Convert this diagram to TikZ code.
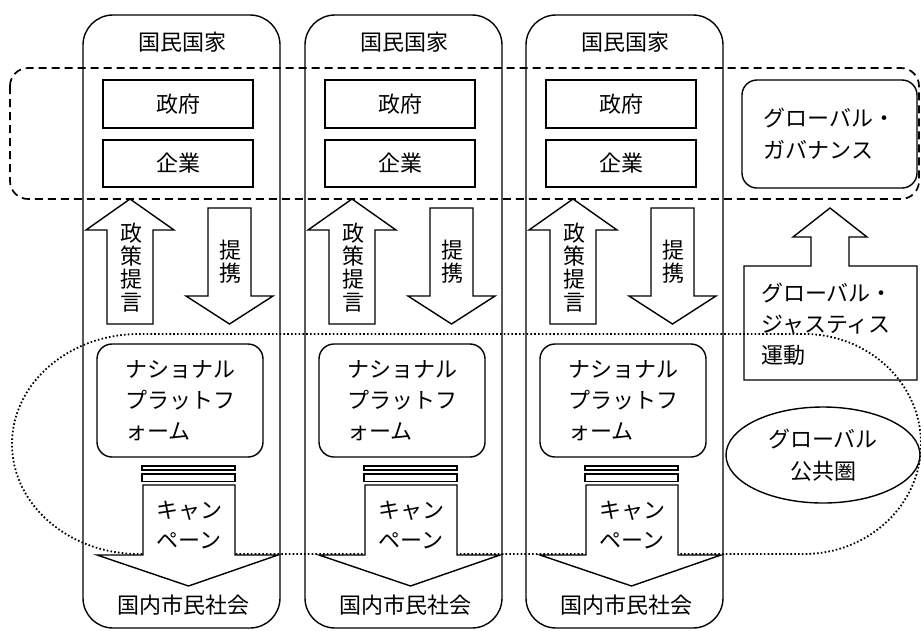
\documentclass[tikz,border=0pt]{standalone}
\usepackage{fontspec}
\setmainfont{Noto Sans CJK JP}
\usetikzlibrary{shapes.geometric}
\begin{document}
\begin{tikzpicture}[x=1pt,y=-1pt,
  line width=1.4pt,
  jp/.style={font=\fontsize{22}{31}\selectfont},
  jpv/.style={font=\fontsize{22}{23}\selectfont, align=center},
  sqbox/.style={draw, fill=white, minimum width=150pt, inner sep=0pt, jp},
  rbox/.style={draw, fill=white, rounded corners=15pt, inner sep=0pt, jp},
  bigarrow/.style={draw, fill=white, line join=miter},
  dashline/.style={dash pattern=on 8pt off 5pt, line width=1.7pt},
  dotline/.style={dash pattern=on 1.6pt off 2.2pt, line width=1.8pt},
]
\useasboundingbox (0,0) rectangle (921,630);

% global public sphere (dotted)
\draw[dotline] (139,334) -- (804,334)
  arc[start angle=-90, end angle=90, x radius=117, y radius=110]
  -- (139,554)
  arc[start angle=90, end angle=270, x radius=127, y radius=110];

% governance zone (dashed)
\draw[dashline, rounded corners=18pt] (10,68) rectangle (919,199);

\foreach \d/\n in {0/1, 222/2, 443/3} {
\begin{scope}[xshift=\d pt]
  \node[draw, rounded corners=30pt, minimum width=197pt, minimum height=613pt, inner sep=0pt] (col\n) at (181.5,321.5) {};
  \node[jp] (nat\n) at (182,42) {国民国家};
  \node[sqbox, minimum height=48pt] (gov\n) at (178,104) {政府};
  \node[sqbox, minimum height=47pt] (ent\n) at (178,163.5) {企業};
  % policy proposal (up)
  \draw[bigarrow] (107,324) -- (107,230) -- (86,230) -- (130,199) -- (174,230) -- (153,230) -- (153,324) -- cycle;
  \node[jpv] (pol\n) at (131,268) {政\\策\\提\\言};
  % cooperation (down)
  \draw[bigarrow] (208,208) -- (251,208) -- (251,296) -- (273,296) -- (229.5,324) -- (186,296) -- (208,296) -- cycle;
  \node[jpv] (coop\n) at (230,262) {提\\携};
  % national platform
  \node[rbox, minimum width=166pt, minimum height=113pt, align=left] (plat\n) at (180,400.5) {ナショナル\\プラットフ\\ォーム};
  % bars
  \draw[fill=white] (142,466) rectangle (235,470);
  \draw[fill=white] (142,474) rectangle (235,481.5);
  % campaign arrow
  \draw[bigarrow] (143,485) -- (235,485) -- (235,555) -- (278,555) -- (188.5,586) -- (97,555) -- (143,555) -- cycle;
  \node[jp, align=center, font=\fontsize{22}{30}\selectfont] (camp\n) at (189,525) {キャン\\ペーン};
  \node[jp] (civ\n) at (183,605) {国内市民社会};
\end{scope}
}

% right side
\node[rbox, minimum width=175pt, minimum height=108pt, align=left, font=\fontsize{22}{32}\selectfont] (gg) at (829.5,134) {グローバル・\\ガバナンス};
\draw (744,266) -- (811,266) -- (811,237) -- (793,237) -- (830,208) -- (867,237) -- (849,237) -- (849,266) -- (917,266) -- (917,380) -- (744,380) -- cycle;
\node[jp, align=left] (gj) at (827,324) {グローバル・\\ジャスティス\\運動};
\node[draw, ellipse, minimum width=194pt, minimum height=96pt, inner sep=0pt, align=center, font=\fontsize{22}{32}\selectfont] (gps) at (823,455) {グローバル\\公共圏};
\end{tikzpicture}
\end{document}
